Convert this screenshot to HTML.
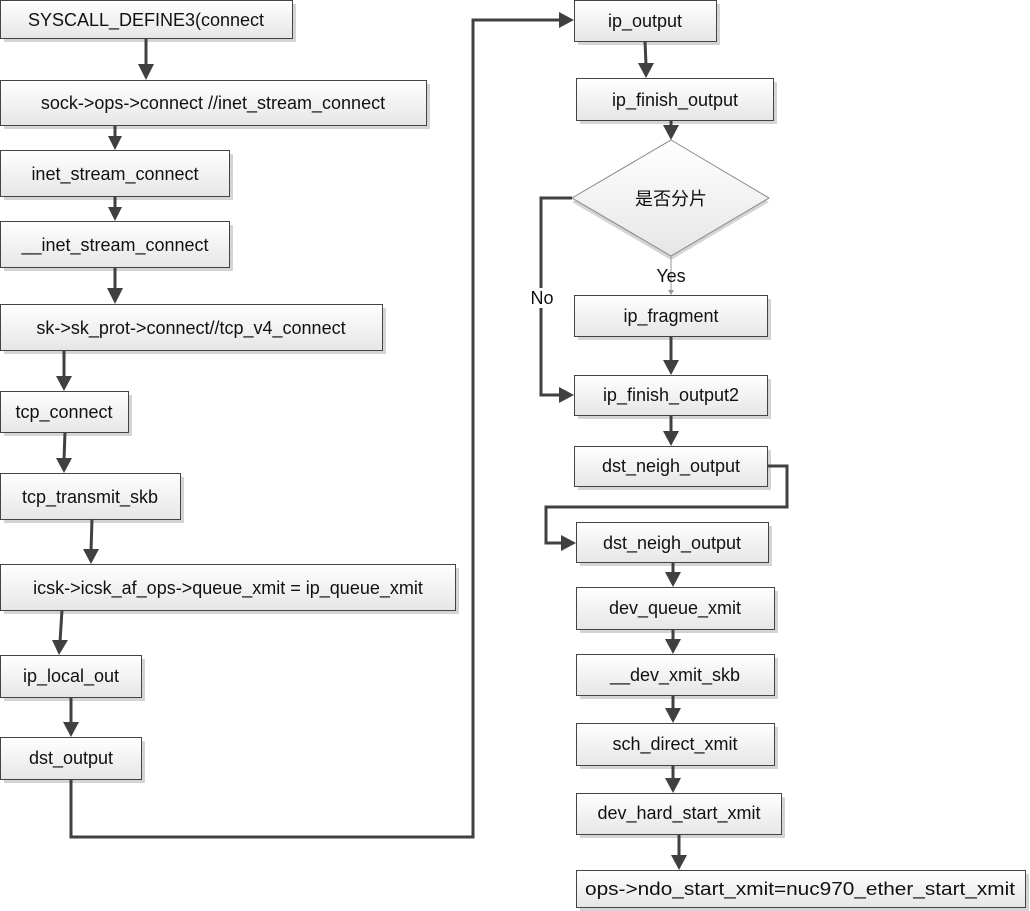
<!DOCTYPE html>
<html><head><meta charset="utf-8"><style>
html,body{margin:0;padding:0;background:#fff;}
svg{display:block;}
text{font-family:"Liberation Sans","Noto Sans CJK SC",sans-serif;font-size:18px;fill:#111;}
</style></head><body>
<svg width="1030" height="911" viewBox="0 0 1030 911" xmlns="http://www.w3.org/2000/svg">
<defs>
<linearGradient id="g" x1="0" y1="0" x2="0" y2="1"><stop offset="0" stop-color="#ffffff"/><stop offset="1" stop-color="#e6e6e6"/></linearGradient>
</defs>
<g id="shadows" fill="#d4d4d4">
<rect x="4" y="4" width="292" height="38"/>
<rect x="4" y="84" width="426" height="45"/>
<rect x="4" y="154" width="229" height="46"/>
<rect x="4" y="225" width="229" height="46"/>
<rect x="4" y="308" width="382" height="46"/>
<rect x="4" y="395" width="128" height="41"/>
<rect x="4" y="477" width="180" height="46"/>
<rect x="4" y="568" width="455" height="46"/>
<rect x="4" y="659" width="141" height="42"/>
<rect x="4" y="741" width="141" height="42"/>
<rect x="578" y="4" width="142" height="41"/>
<rect x="580" y="82" width="197" height="42"/>
<rect x="578" y="299" width="193" height="41"/>
<rect x="578" y="379" width="193" height="40"/>
<rect x="578" y="450" width="193" height="40"/>
<rect x="580" y="526" width="192" height="40"/>
<rect x="580" y="591" width="198" height="42"/>
<rect x="580" y="658" width="198" height="41"/>
<rect x="580" y="727" width="198" height="42"/>
<rect x="580" y="797" width="205" height="41"/>
<rect x="580" y="874" width="449" height="37"/>
<polygon points="671,144 769,202 671,260 572,202"/>
</g>
<g fill="url(#g)" stroke="#444" stroke-width="1">
<rect x="0.5" y="0.5" width="292" height="38"/>
<rect x="0.5" y="80.5" width="426" height="45"/>
<rect x="0.5" y="150.5" width="229" height="46"/>
<rect x="0.5" y="221.5" width="229" height="46"/>
<rect x="0.5" y="304.5" width="382" height="46"/>
<rect x="0.5" y="391.5" width="128" height="41"/>
<rect x="0.5" y="473.5" width="180" height="46"/>
<rect x="0.5" y="564.5" width="455" height="46"/>
<rect x="0.5" y="655.5" width="141" height="42"/>
<rect x="0.5" y="737.5" width="141" height="42"/>
<rect x="574.5" y="0.5" width="142" height="41"/>
<rect x="576.5" y="78.5" width="197" height="42"/>
<polygon points="671,140 769,198 671,256 572,198" stroke="#888"/>
<rect x="574.5" y="295.5" width="193" height="41"/>
<rect x="574.5" y="375.5" width="193" height="40"/>
<rect x="574.5" y="446.5" width="193" height="40"/>
<rect x="576.5" y="522.5" width="192" height="40"/>
<rect x="576.5" y="587.5" width="198" height="42"/>
<rect x="576.5" y="654.5" width="198" height="41"/>
<rect x="576.5" y="723.5" width="198" height="42"/>
<rect x="576.5" y="793.5" width="205" height="41"/>
<rect x="576.5" y="870.5" width="449" height="37"/>
</g>
<g fill="none" stroke="#404040" stroke-width="3">
<line x1="146" y1="38" x2="146" y2="66"/>
<line x1="115" y1="125" x2="115" y2="138"/>
<line x1="115" y1="196" x2="115" y2="209"/>
<line x1="115" y1="267" x2="115" y2="290"/>
<line x1="64" y1="350" x2="64" y2="378"/>
<line x1="65" y1="432" x2="64" y2="460"/>
<line x1="92" y1="519" x2="91" y2="551"/>
<line x1="62" y1="610" x2="60" y2="642"/>
<line x1="71" y1="697" x2="71" y2="724"/>
<polyline points="71,779 71,837 473,837 473,20 560,20"/>
<line x1="645" y1="41" x2="646" y2="65"/>
<line x1="671" y1="120" x2="671" y2="128"/>
<polyline points="572,198 541,198 541,395 560,395"/>
<line x1="671" y1="336" x2="671" y2="362"/>
<line x1="671" y1="415" x2="671" y2="433"/>
<polyline points="767,466 787,466 787,507 546,507 546,543 562,543"/>
<line x1="673" y1="562" x2="673" y2="574"/>
<line x1="673" y1="629" x2="673" y2="641"/>
<line x1="673" y1="695" x2="673" y2="710"/>
<line x1="673" y1="765" x2="673" y2="780"/>
<line x1="679" y1="834" x2="679" y2="857"/>
</g>
<line x1="671" y1="256" x2="671" y2="293" stroke="#999" stroke-width="1"/>
<g fill="#404040">
<polygon points="138,64 154,64 146,80"/>
<polygon points="108,136 122,136 115,150"/>
<polygon points="108,207 122,207 115,221"/>
<polygon points="107,288 123,288 115,304"/>
<polygon points="56,376 72,376 64,391"/>
<polygon points="56,458 72,458 64,473"/>
<polygon points="83,549 99,549 91,564"/>
<polygon points="52,640 68,640 59,655"/>
<polygon points="63,722 79,722 71,737"/>
<polygon points="559,12 559,28 574,20"/>
<polygon points="638,63 654,63 646,78"/>
<polygon points="663,125 679,125 671,140"/>
<polygon points="559,387 559,403 574,395"/>
<polygon points="663,360 679,360 671,375"/>
<polygon points="663,431 679,431 671,446"/>
<polygon points="561,535 561,551 576,543"/>
<polygon points="665,572 681,572 673,587"/>
<polygon points="665,639 681,639 673,654"/>
<polygon points="665,708 681,708 673,723"/>
<polygon points="665,778 681,778 673,793"/>
<polygon points="671,855 687,855 679,870"/>
<polygon points="668,290 674,290 671,295" fill="#999"/>
</g>
<rect x="528" y="288" width="28" height="20" fill="#fff"/>
<g text-anchor="middle">
<text x="146" y="26">SYSCALL_DEFINE3(connect</text>
<text x="213" y="109">sock-&gt;ops-&gt;connect //inet_stream_connect</text>
<text x="115" y="180">inet_stream_connect</text>
<text x="115" y="251">__inet_stream_connect</text>
<text x="191" y="334">sk-&gt;sk_prot-&gt;connect//tcp_v4_connect</text>
<text x="64" y="418">tcp_connect</text>
<text x="90" y="503">tcp_transmit_skb</text>
<text x="228" y="594">icsk-&gt;icsk_af_ops-&gt;queue_xmit = ip_queue_xmit</text>
<text x="71" y="682">ip_local_out</text>
<text x="71" y="764">dst_output</text>
<text x="645" y="27">ip_output</text>
<text x="675" y="106">ip_finish_output</text>
<text x="671" y="205" font-family="Noto Serif CJK SC, serif" fill="#333">是否分片</text>
<text x="671" y="282">Yes</text>
<text x="542" y="304">No</text>
<text x="671" y="322">ip_fragment</text>
<text x="671" y="401">ip_finish_output2</text>
<text x="671" y="472">dst_neigh_output</text>
<text x="672" y="549">dst_neigh_output</text>
<text x="675" y="614">dev_queue_xmit</text>
<text x="675" y="681">__dev_xmit_skb</text>
<text x="675" y="750">sch_direct_xmit</text>
<text x="679" y="819">dev_hard_start_xmit</text>
<text x="800" y="895" textLength="430" lengthAdjust="spacingAndGlyphs">ops-&gt;ndo_start_xmit=nuc970_ether_start_xmit</text>
</g>
</svg>
</body></html>
